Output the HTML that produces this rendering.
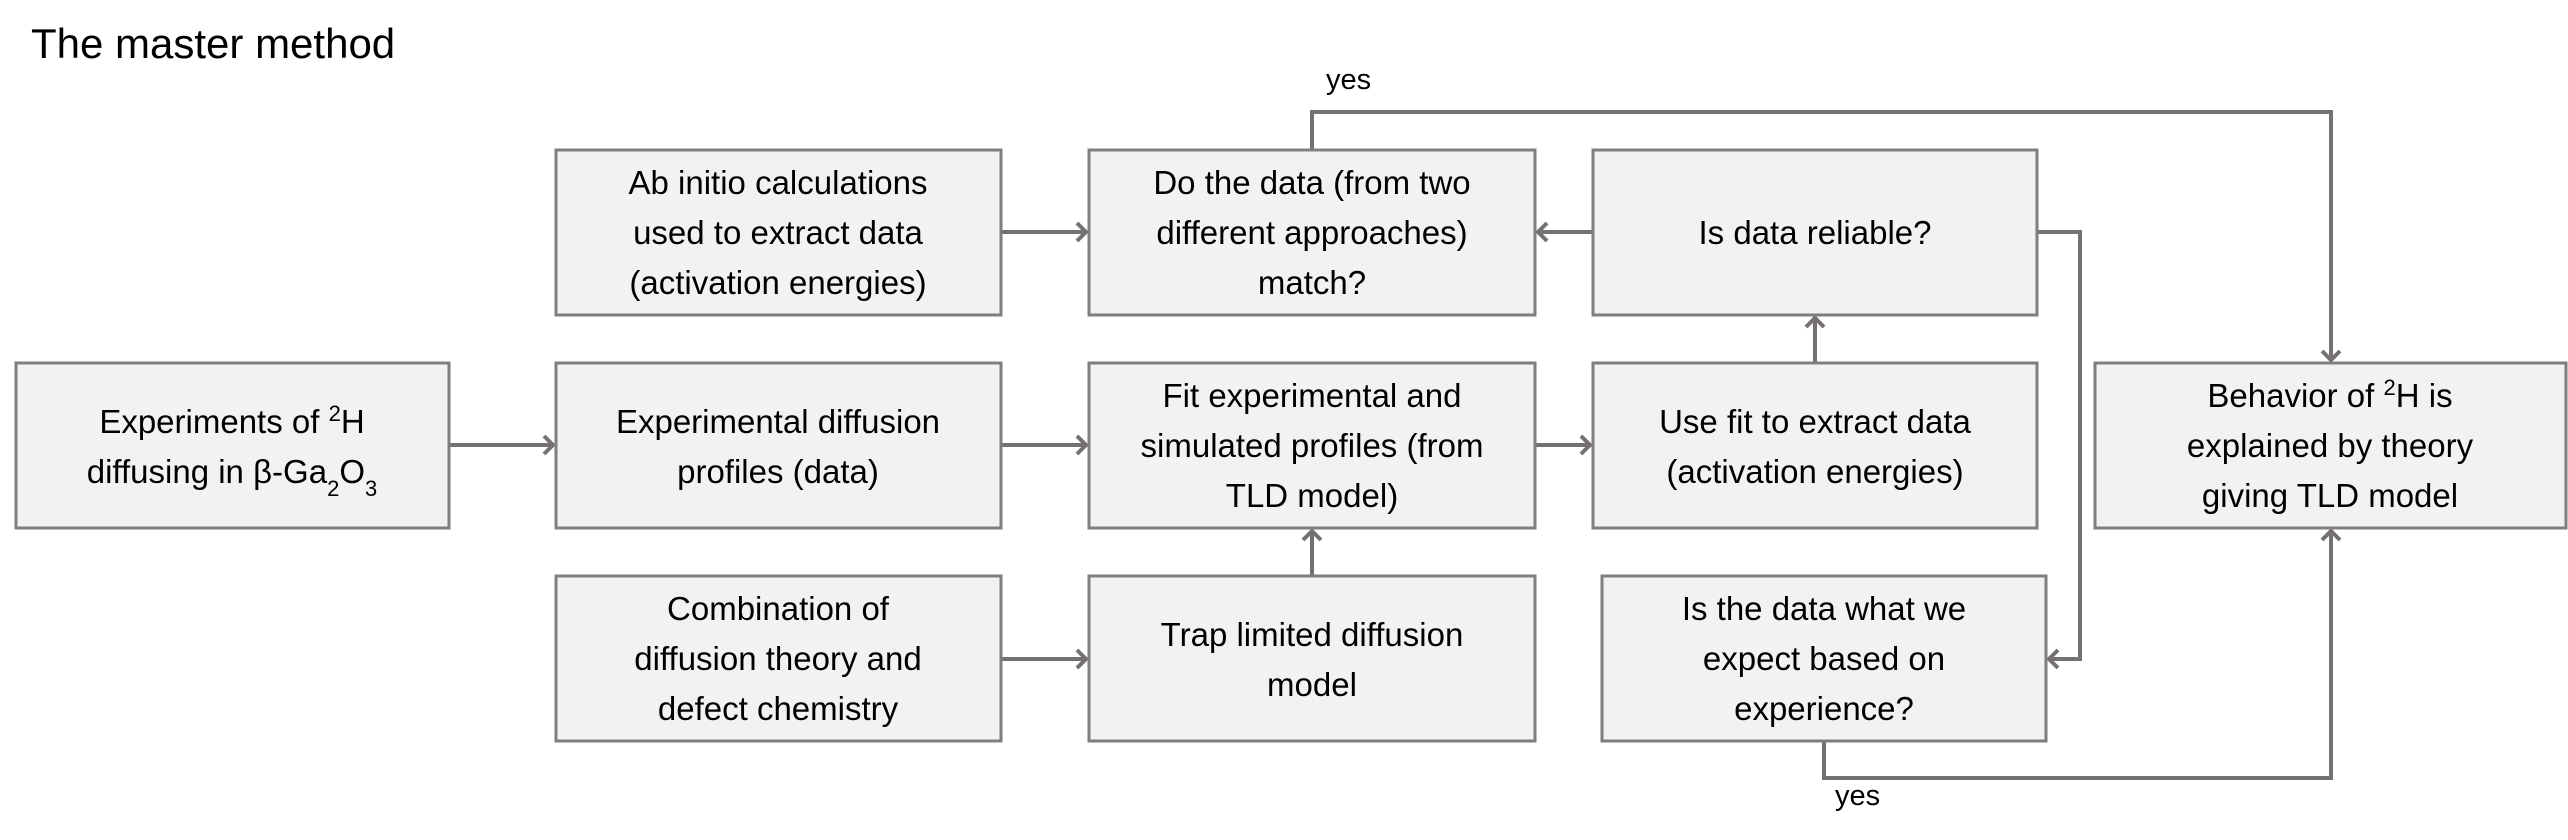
<!DOCTYPE html>
<html><head><meta charset="utf-8"><style>
html,body{margin:0;padding:0;background:#fff;}
svg{display:block;}
text{font-family:"Liberation Sans",sans-serif;fill:#000;}
.t{font-size:33px;text-anchor:middle;}
.b{fill:#f2f2f2;stroke:#7f7f7f;stroke-width:3;}
.c{fill:none;stroke:#767171;stroke-width:4;}
</style></head><body>
<svg width="2568" height="840" viewBox="0 0 2568 840" xmlns="http://www.w3.org/2000/svg">
<defs>
<marker id="a" markerUnits="userSpaceOnUse" markerWidth="28" markerHeight="28" refX="14" refY="14" orient="auto">
<polyline points="4,5 13,14 4,23" fill="none" stroke="#767171" stroke-width="4"/>
</marker>
</defs>
<text x="31" y="58" style="font-size:42px">The master method</text>

<line class="c" x1="449" y1="445" x2="554" y2="445" marker-end="url(#a)"/>
<line class="c" x1="1001" y1="232" x2="1087" y2="232" marker-end="url(#a)"/>
<line class="c" x1="1001" y1="445" x2="1087" y2="445" marker-end="url(#a)"/>
<line class="c" x1="1001" y1="659" x2="1087" y2="659" marker-end="url(#a)"/>
<line class="c" x1="1535" y1="445" x2="1591" y2="445" marker-end="url(#a)"/>
<line class="c" x1="1593" y1="232" x2="1537" y2="232" marker-end="url(#a)"/>
<line class="c" x1="1312" y1="576" x2="1312" y2="530" marker-end="url(#a)"/>
<line class="c" x1="1815" y1="363" x2="1815" y2="317" marker-end="url(#a)"/>
<polyline class="c" points="1312,150 1312,112 2331,112 2331,361" marker-end="url(#a)"/>
<polyline class="c" points="2037,232 2080,232 2080,659 2048,659" marker-end="url(#a)"/>
<polyline class="c" points="1824,741 1824,778 2331,778 2331,530" marker-end="url(#a)"/>
<text x="1326" y="89" style="font-size:29px">yes</text>
<text x="1835" y="805" style="font-size:29px">yes</text>

<rect class="b" x="16" y="363" width="433" height="165"/>
<text class="t" x="232" y="433">Experiments of <tspan baseline-shift="super" font-size="22">2</tspan>H</text>
<text class="t" x="232" y="483">diffusing in β-Ga<tspan baseline-shift="sub" font-size="22">2</tspan>O<tspan baseline-shift="sub" font-size="22">3</tspan></text>

<rect class="b" x="556" y="150" width="445" height="165"/>
<text class="t" x="778" y="194">Ab initio calculations</text>
<text class="t" x="778" y="244">used to extract data</text>
<text class="t" x="778" y="294">(activation energies)</text>

<rect class="b" x="556" y="363" width="445" height="165"/>
<text class="t" x="778" y="433">Experimental diffusion</text>
<text class="t" x="778" y="483">profiles (data)</text>

<rect class="b" x="556" y="576" width="445" height="165"/>
<text class="t" x="778" y="620">Combination of</text>
<text class="t" x="778" y="670">diffusion theory and</text>
<text class="t" x="778" y="720">defect chemistry</text>

<rect class="b" x="1089" y="150" width="446" height="165"/>
<text class="t" x="1312" y="194">Do the data (from two</text>
<text class="t" x="1312" y="244">different approaches)</text>
<text class="t" x="1312" y="294">match?</text>

<rect class="b" x="1089" y="363" width="446" height="165"/>
<text class="t" x="1312" y="407">Fit experimental and</text>
<text class="t" x="1312" y="457">simulated profiles (from</text>
<text class="t" x="1312" y="507">TLD model)</text>

<rect class="b" x="1089" y="576" width="446" height="165"/>
<text class="t" x="1312" y="646">Trap limited diffusion</text>
<text class="t" x="1312" y="696">model</text>

<rect class="b" x="1593" y="150" width="444" height="165"/>
<text class="t" x="1815" y="244">Is data reliable?</text>

<rect class="b" x="1593" y="363" width="444" height="165"/>
<text class="t" x="1815" y="433">Use fit to extract data</text>
<text class="t" x="1815" y="483">(activation energies)</text>

<rect class="b" x="1602" y="576" width="444" height="165"/>
<text class="t" x="1824" y="620">Is the data what we</text>
<text class="t" x="1824" y="670">expect based on</text>
<text class="t" x="1824" y="720">experience?</text>

<rect class="b" x="2095" y="363" width="471" height="165"/>
<text class="t" x="2330" y="407">Behavior of <tspan baseline-shift="super" font-size="22">2</tspan>H is</text>
<text class="t" x="2330" y="457">explained by theory</text>
<text class="t" x="2330" y="507">giving TLD model</text>
</svg>
</body></html>
